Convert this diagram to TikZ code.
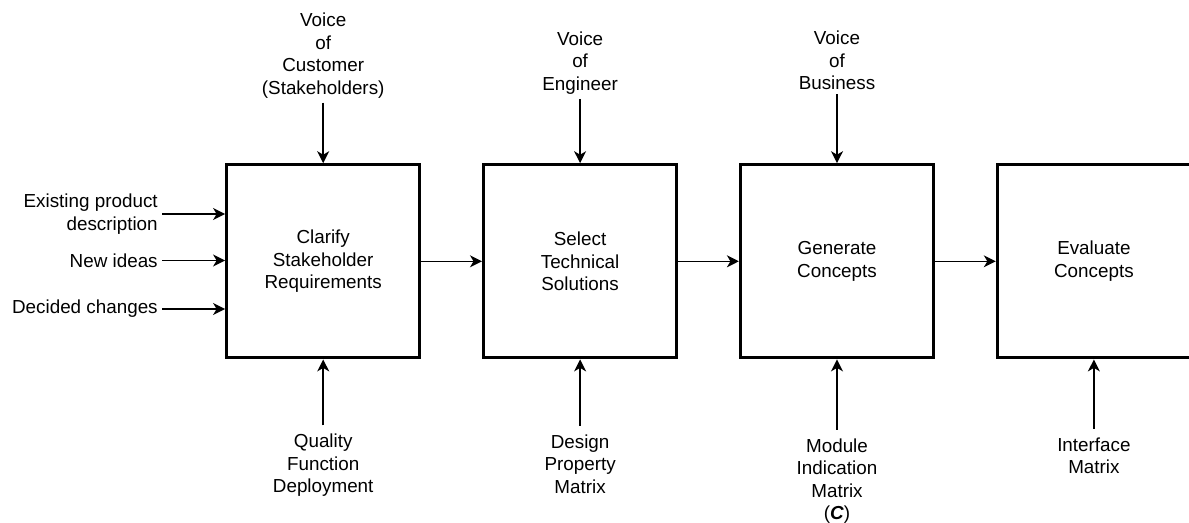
\documentclass[tikz,border=0pt]{standalone}
\usepackage{fontspec}
\setmainfont{Liberation Sans}
\usetikzlibrary{arrows.meta}
\tikzset{
  stage/.style={draw, line width=2.3pt, minimum width=4.825cm, minimum height=4.825cm, align=center, inner sep=0pt},
  lbl/.style={align=center, inner sep=3pt},
  lblb/.style={lbl, inner sep=6pt},
  flow/.style={-{Stealth[length=8.5pt,width=8.5pt,inset=2.5pt]}, line width=1.05pt},
}
\begin{document}
\begin{tikzpicture}[x=0.025cm,y=-0.025cm,font=\fontsize{13.4}{16}\selectfont]
\useasboundingbox (0,0) rectangle (1189,522);
\node[stage] (clarify) at (323.2,261.3) {Clarify\\Stakeholder\\Requirements};
\node[stage] (select) at (580.1,261.3) {Select\\Technical\\Solutions};
\node[stage] (generate) at (837.0,261.3) {Generate\\Concepts};
\node[stage] (evaluate) at (1093.9,261.3) {Evaluate\\Concepts};
\draw[flow] (clarify) -- (select);
\draw[flow] (select) -- (generate);
\draw[flow] (generate) -- (evaluate);
% inputs from above
\node[lbl, anchor=south] (vcust) at (323.2,102.5) {Voice\\of\\Customer\\(Stakeholders)};
\node[lbl, anchor=south] (veng) at (580.1,98.9) {Voice\\of\\Engineer};
\node[lbl, anchor=south] (vbus) at (837.0,94.2) {Voice\\of\\Business};
\draw[flow] (vcust) -- (clarify);
\draw[flow] (veng) -- (select);
\draw[flow] (vbus) -- (generate);
% tools from below
\node[lblb, anchor=north] (qfd) at (323.2,425.3) {Quality\\Function\\Deployment};
\node[lblb, anchor=north] (dpm) at (580.1,425.7) {Design\\Property\\Matrix};
\node[lblb, anchor=north] (mim) at (837.0,429.7) {Module\\Indication\\Matrix\\(\textbf{\textit{C}})};
\node[lblb, anchor=north] (imx) at (1093.9,428.8) {Interface\\Matrix};
\draw[flow] (qfd) -- (clarify);
\draw[flow] (dpm) -- (select);
\draw[flow] (mim) -- (generate);
\draw[flow] (imx) -- (evaluate);
% inputs from the left
\node[lbl, align=right, anchor=east] (epd) at (162.2,214) {Existing product\\description};
\node[lbl, anchor=east] (newid) at (162.2,260.5) {New ideas};
\node[lbl, anchor=east] (dchg) at (162.2,309) {Decided changes};
\draw[flow] (epd.east) -- (epd.east -| clarify.west);
\draw[flow] (newid.east) -- (newid.east -| clarify.west);
\draw[flow] (dchg.east) -- (dchg.east -| clarify.west);
\end{tikzpicture}
\end{document}
